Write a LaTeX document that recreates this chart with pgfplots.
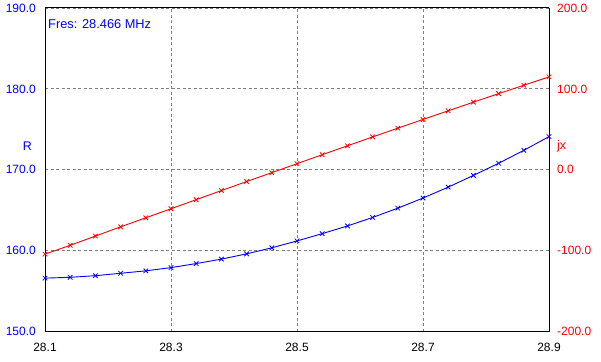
\documentclass[border=0pt]{standalone}
\usepackage{fontspec}
\setmainfont{Liberation Sans}
\usepackage{pgfplots}
\pgfplotsset{compat=1.18}
\definecolor{pblue}{RGB}{0,0,255}
\definecolor{pred}{RGB}{255,0,0}
\definecolor{gridgray}{RGB}{128,128,128}
\begin{document}
\begin{tikzpicture}
\path[use as bounding box] (-45pt,-29.5pt) rectangle (556pt,331.5pt);
\pgfplotsset{
  every axis/.append style={
    scale only axis, width=504pt, height=323.5pt,
    xmin=28.1, xmax=28.9,
    xtick={28.1,28.3,28.5,28.7,28.9},
    major tick length=0pt,
    tick label style={font=\fontsize{12}{12}\selectfont},
    /pgf/number format/assume math mode=true,
    /pgf/number format/fixed, /pgf/number format/fixed zerofill, /pgf/number format/precision=1,
    axis line style={black, line width=1pt},
    clip=false,
  },
}
\begin{axis}[
  ymin=150, ymax=190,
  ytick={150,160,170,180,190},
  grid=major,
  major grid style={gridgray, line width=0.8pt, dash pattern=on 3pt off 2.5pt},
  yticklabel style={pblue, anchor=east, inner sep=0pt, xshift=-9pt},
  xticklabel style={black, anchor=north, inner sep=0pt, yshift=-11.5pt},
  axis y line*=left,
]
\addplot[pblue, line width=0.9pt, mark=x, mark size=3.2pt, mark options={line width=0.8pt}] coordinates {
(28.10,156.6) (28.14,156.7) (28.18,156.9) (28.22,157.2) (28.26,157.5)
(28.30,157.9) (28.34,158.4) (28.38,158.95) (28.42,159.6) (28.46,160.35)
(28.50,161.2) (28.54,162.1) (28.58,163.05) (28.62,164.1) (28.66,165.25)
(28.70,166.5) (28.74,167.85) (28.78,169.3) (28.82,170.8) (28.86,172.4)
(28.90,174.1)};
\node[anchor=base west, pblue, inner sep=0pt, font=\fontsize{12.8}{12.8}\selectfont, xshift=3pt, yshift=-21pt] at (rel axis cs:0,1) {Fres: 28.466 MHz};
\node[anchor=east, pblue, inner sep=0pt, font=\fontsize{12.5}{12.5}\selectfont, xshift=-13pt, yshift=185.5pt] at (rel axis cs:0,0) {R};
\draw[black, line width=1pt] (rel axis cs:0,1) -- (rel axis cs:1,1);
\end{axis}
\begin{axis}[
  ymin=-200, ymax=200,
  ytick={-200,-100,0,100,200},
  axis y line*=right,
  axis x line=none,
  yticklabel style={pred, anchor=west, inner sep=0pt, xshift=8pt},
]
\addplot[pred, line width=0.9pt, mark=x, mark size=3.2pt, mark options={line width=0.8pt}] coordinates {
(28.10,-104.3) (28.14,-93.4) (28.18,-82.0) (28.22,-70.6) (28.26,-59.4)
(28.30,-48.2) (28.34,-37.0) (28.38,-25.7) (28.42,-14.6) (28.46,-3.6)
(28.50,7.5) (28.54,18.6) (28.58,29.6) (28.62,40.6) (28.66,51.4)
(28.70,62.2) (28.74,72.9) (28.78,83.6) (28.82,94.1) (28.86,104.5)
(28.90,114.8)};
\node[anchor=west, pred, inner sep=0pt, font=\fontsize{12.5}{12.5}\selectfont, xshift=8pt, yshift=185.5pt] at (rel axis cs:1,0) {jx};
\end{axis}
\end{tikzpicture}
\end{document}
